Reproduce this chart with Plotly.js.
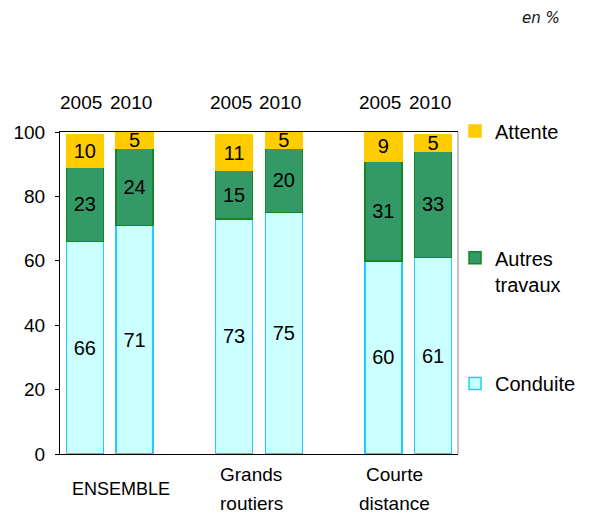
<!DOCTYPE html>
<html>
<head>
<meta charset="utf-8">
<script src="https://cdn.plot.ly/plotly-3.0.1.min.js"></script>
<style>html,body{margin:0;padding:0;background:#fff;}#chart{width:593px;height:513px;}</style>
</head>
<body>
<div id="chart"></div>
<script>
// ---- data ----
const groups = ["ENSEMBLE", "Grands<br>routiers", "Courte<br>distance"];
const years = ["2005", "2010"];
const conduite = [66, 71, 73, 75, 60, 61];
const autres = [23, 24, 15, 20, 31, 33];
const attente = [10, 5, 11, 5, 9, 5];
const seriesNames = ["Conduite", "Autres<br>travaux", "Attente"];

// ---- layout helpers ----
const FONT = "Liberation Sans, Arial, sans-serif";
const xs = [];
const yearLab = [];
groups.forEach((g, gi) => years.forEach((y, yi) => { xs.push(gi * 3 + yi); yearLab.push(y); }));
const groupShift = [0.22, -0.16, -0.27];

function barTrace(name, vals, fill, line, legendId) {
  return {
    type: "bar", name: name, x: xs, y: vals, width: 0.74,
    marker: {color: fill, line: {color: line, width: 1.5}},
    text: vals.map(String), textposition: "inside", insidetextanchor: "middle",
    constraintext: "none", textangle: 0,
    textfont: {family: FONT, size: 20, color: "#000"},
    legend: legendId, hoverinfo: "skip"
  };
}

const traces = [
  barTrace(seriesNames[0], conduite, "#CCFFFF", "#22CCFF", "legend3"),
  barTrace(seriesNames[1], autres, "#339966", "#118822", "legend2"),
  barTrace(seriesNames[2], attente, "#FFCC00", "#FFCC00", "legend")
];

const annotations = [];
xs.forEach((x, i) => annotations.push({
  x: x - 0.07, xref: "x", xanchor: "center", y: 1, yref: "paper", yanchor: "middle", yshift: 30,
  text: yearLab[i], showarrow: false, font: {family: FONT, size: 19, color: "#000"}
}));
groups.forEach((g, gi) => {
  const lines = g.split("<br>");
  const cx = gi * 3 + 0.5 + groupShift[gi];
  lines.forEach((ln, li) => {
    const shift = lines.length === 1 ? -35 : (li === 0 ? -20 : -49);
    annotations.push({
      x: cx, xref: "x", xanchor: "center", y: 0, yref: "paper", yanchor: "middle", yshift: shift,
      text: ln, showarrow: false,
      font: {family: FONT, size: gi === 0 ? 18 : 19, color: "#000"}
    });
  });
});
annotations.push({
  x: (546 - 60) / 402, xref: "paper", xanchor: "center",
  y: (454.5 - 18) / 322.5, yref: "paper", yanchor: "middle",
  showarrow: false, text: "en %",
  font: {family: "DejaVu Sans, sans-serif", size: 15, style: "italic", color: "#111"}
});

const legBase = {
  x: 0.9925, xanchor: "left", yanchor: "middle", bgcolor: "rgba(0,0,0,0)",
  font: {family: FONT, size: 20, color: "#000"}, borderwidth: 0
};

const layout = {
  width: 593, height: 513,
  margin: {l: 60, r: 131, t: 132, b: 58.5},
  paper_bgcolor: "#fff", plot_bgcolor: "#fff",
  barmode: "stack", showlegend: true,
  font: {family: FONT, size: 19, color: "#000"},
  xaxis: {range: [-0.5, 7.5], showticklabels: false, ticks: "", showgrid: false,
          zeroline: false, showline: true, linecolor: "#000", linewidth: 1, mirror: true, fixedrange: true},
  yaxis: {range: [0, 100], dtick: 20, tick0: 0, ticks: "outside", ticklen: 4, tickcolor: "#000",
          ticklabelstandoff: 6, showgrid: false, zeroline: false, showline: true, linecolor: "#000",
          linewidth: 1, tickfont: {family: FONT, size: 19, color: "#000"}, fixedrange: true},
  legend: Object.assign({}, legBase, {y: (454.5 - 131) / 322.5}),
  legend2: Object.assign({}, legBase, {y: (454.5 - 271) / 322.5, valign: "top"}),
  legend3: Object.assign({}, legBase, {y: (454.5 - 384) / 322.5}),
  shapes: [{type: "line", xref: "paper", yref: "paper", x0: 1, x1: 1, y0: 0, y1: 1,
            line: {color: "#888", width: 1}}],
  annotations: annotations
};

Plotly.newPlot("chart", traces, layout, {staticPlot: true, displayModeBar: false});
</script>
</body>
</html>
